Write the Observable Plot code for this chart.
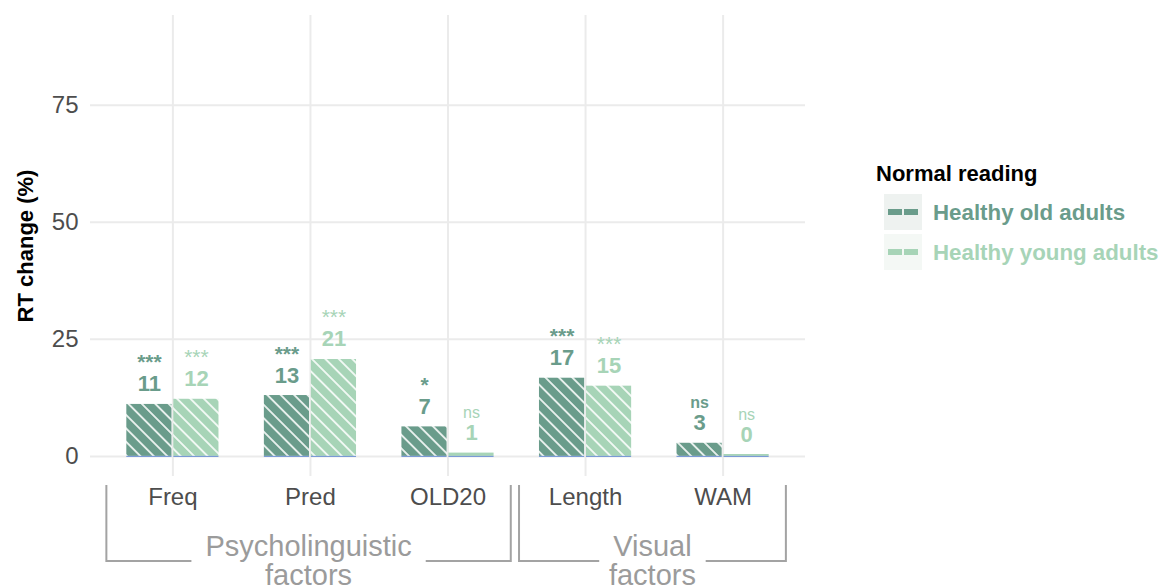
<!DOCTYPE html>
<html>
<head>
<meta charset="utf-8">
<script src="https://cdn.jsdelivr.net/npm/d3@7"></script>
<script src="https://cdn.jsdelivr.net/npm/@observablehq/plot@0.6"></script>
<style>
  html, body { margin: 0; padding: 0; background: #fff; overflow: hidden; }
  #wrap { position: relative; width: 1161px; height: 587px; font-family: "Liberation Sans", Arial, sans-serif; }
  #chart { position: absolute; left: 0; top: 0; }
  #legend { position: absolute; left: 0; top: 0; }
  .lg-title { position: absolute; left: 876px; top: 163px; font-size: 22px; line-height: 22px; font-weight: bold; color: #000; white-space: nowrap; }
  .lg-key { position: absolute; left: 884px; width: 38px; height: 36px; }
  .lg-label { position: absolute; left: 933px; font-size: 22.3px; line-height: 22px; font-weight: bold; white-space: nowrap; }
</style>
</head>
<body>
<div id="wrap"><div id="chart"></div><div id="legend"></div></div>
<script>
// ---- data ----
const categories = ["Freq", "Pred", "OLD20", "Length", "WAM"];
const seriesNames = ["Healthy old adults", "Healthy young adults"];
const oldValues = [11.1, 13.0, 6.3, 16.7, 2.8];
const youngValues = [12.2, 20.7, 0.7, 15.0, 0.4];
const oldLabels = ["11", "13", "7", "17", "3"];
const youngLabels = ["12", "21", "1", "15", "0"];
const oldSig = ["***", "***", "*", "***", "ns"];
const youngSig = ["***", "***", "ns", "***", "ns"];
const groupLabels = [["Psycholinguistic", "factors"], ["Visual", "factors"]];
const groupMembers = [["Freq", "Pred", "OLD20"], ["Length", "WAM"]];
const yTicks = [0, 25, 50, 75];
const legendTitle = "Normal reading";
const yTitle = "RT change (%)";

// ---- styles ----
const oldColor = "#6a9c8b";
const youngColor = "#a7d4b7";
const keyBg = ["#eef2f0", "#f4f8f5"];
const gridColor = "#ebebeb";

const oldRows = categories.map((c, i) => ({cat: c, value: oldValues[i], label: oldLabels[i], sig: oldSig[i]}));
const youngRows = categories.map((c, i) => ({cat: c, value: youngValues[i], label: youngLabels[i], sig: youngSig[i]}));

const W = 860, H = 587, mL = 90, mR = 55, mT = 15, mB = 111;
const half = 47, off = 23.5;
const sigSize = d => d.sig.includes("*") ? 21 : 16;

const plot = Plot.plot({
  width: W, height: H,
  marginLeft: mL, marginRight: mR, marginTop: mT, marginBottom: mB,
  style: {fontFamily: "'Liberation Sans', Arial, sans-serif", fontSize: "24px", color: "#4d4d4d", background: "transparent"},
  x: {domain: categories, paddingInner: 0.33, paddingOuter: 0.264, round: false, tickSize: 0, tickPadding: 11, label: null},
  y: {domain: [-4.3, 94.2], ticks: yTicks, tickSize: 0, tickPadding: 12, label: null},
  marks: [
    Plot.ruleY(yTicks, {stroke: gridColor, strokeWidth: 2}),
    Plot.ruleX(categories, {x: d => d, stroke: gridColor, strokeWidth: 2}),
    Plot.barY(oldRows, {x: "cat", y: "value", fill: d => d.value < 1.5 ? oldColor : "url(#hatch-old)", insetRight: half}),
    Plot.barY(youngRows, {x: "cat", y: "value", fill: d => d.value < 1.5 ? youngColor : "url(#hatch-young)", insetLeft: half}),
    Plot.tickY(oldRows, {x: "cat", y: () => 0, stroke: "#6b8fd3", strokeWidth: 1, insetRight: half}),
    Plot.tickY(youngRows, {x: "cat", y: () => 0, stroke: "#6b8fd3", strokeWidth: 1, insetLeft: half}),
    Plot.text(oldRows, {x: "cat", y: "value", text: "label", dx: -off, dy: -13, lineAnchor: "bottom", fontSize: 22, fontWeight: "bold", fill: oldColor}),
    Plot.text(youngRows, {x: "cat", y: "value", text: "label", dx: off, dy: -13, lineAnchor: "bottom", fontSize: 22, fontWeight: "bold", fill: youngColor}),
    Plot.text(oldRows, {x: "cat", y: "value", text: "sig", dx: -off, dy: -35, lineAnchor: "bottom", fontSize: sigSize, fontWeight: "bold", fill: oldColor}),
    Plot.text(youngRows, {x: "cat", y: "value", text: "sig", dx: off, dy: -35, lineAnchor: "bottom", fontSize: sigSize, fontWeight: "normal", fill: youngColor}),
    Plot.text([yTitle], {text: d => d, frameAnchor: "left", textAnchor: "middle", dx: -65, rotate: -90, fontSize: 22, fontWeight: "bold", fill: "#000"})
  ]
});

document.getElementById("chart").appendChild(plot);

// hatch patterns
const svg = d3.select(plot);
const defs = svg.insert("defs", ":first-child");
function addHatch(id, color) {
  const p = defs.append("pattern").attr("id", id).attr("patternUnits", "userSpaceOnUse")
    .attr("width", 9.5).attr("height", 9.5).attr("patternTransform", "rotate(-45)");
  p.append("rect").attr("width", 9.5).attr("height", 9.5).attr("fill", color);
  p.append("line").attr("x1", 4.75).attr("x2", 4.75).attr("y1", 0).attr("y2", 9.5)
    .attr("stroke", "#fff").attr("stroke-width", 1.6);
}
addHatch("hatch-old", oldColor);
addHatch("hatch-young", youngColor);

// group brackets below the x axis
const xs = plot.scale("x");
const band = d3.scaleBand().domain(xs.domain).range(xs.range)
  .paddingInner(xs.paddingInner ?? 0.33).paddingOuter(xs.paddingOuter ?? 0.264).align(xs.align ?? 0.5);
const step = band.step();
const center = c => band(c) + band.bandwidth() / 2;
const frameBottom = H - mB;
const g = svg.append("g").attr("class", "groups");
groupMembers.forEach((members, i) => {
  const left = center(members[0]) - 0.48 * step;
  const right = center(members[members.length - 1]) + 0.46 * step;
  const mid = (left + right) / 2;
  const t = g.append("text").attr("x", mid).attr("text-anchor", "middle")
    .attr("fill", "#9b9b9b").attr("font-size", 29).attr("font-family", "'Liberation Sans', Arial, sans-serif");
  t.append("tspan").attr("x", mid).attr("y", frameBottom + 80).text(groupLabels[i][0]);
  t.append("tspan").attr("x", mid).attr("y", frameBottom + 109).text(groupLabels[i][1]);
  const tw = t.select("tspan").node().getComputedTextLength();
  const yTop = frameBottom + 9, yBot = frameBottom + 85;
  const gapL = mid - tw / 2 - 14, gapR = mid + tw / 2 + 14;
  g.append("path").attr("fill", "none").attr("stroke", "#a3a3a3").attr("stroke-width", 2)
    .attr("d", `M${gapL},${yBot}H${left}V${yTop}`);
  g.append("path").attr("fill", "none").attr("stroke", "#a3a3a3").attr("stroke-width", 2)
    .attr("d", `M${gapR},${yBot}H${right}V${yTop}`);
});

// legend
const legend = d3.select("#legend");
legend.append("div").attr("class", "lg-title").text(legendTitle);
const seriesColors = [oldColor, youngColor];
const keyTops = [194, 234];
seriesNames.forEach((name, i) => {
  const k = legend.append("div").attr("class", "lg-key").style("top", keyTops[i] + "px").style("background", keyBg[i]);
  const ks = k.append("svg").attr("width", 38).attr("height", 36);
  ks.append("line").attr("x1", 4).attr("x2", 34).attr("y1", 18).attr("y2", 18)
    .attr("stroke", seriesColors[i]).attr("stroke-width", 6).attr("stroke-dasharray", "14,2");
  legend.append("div").attr("class", "lg-label").style("top", (keyTops[i] + 8) + "px")
    .style("color", seriesColors[i]).text(name);
});
</script>
</body>
</html>
